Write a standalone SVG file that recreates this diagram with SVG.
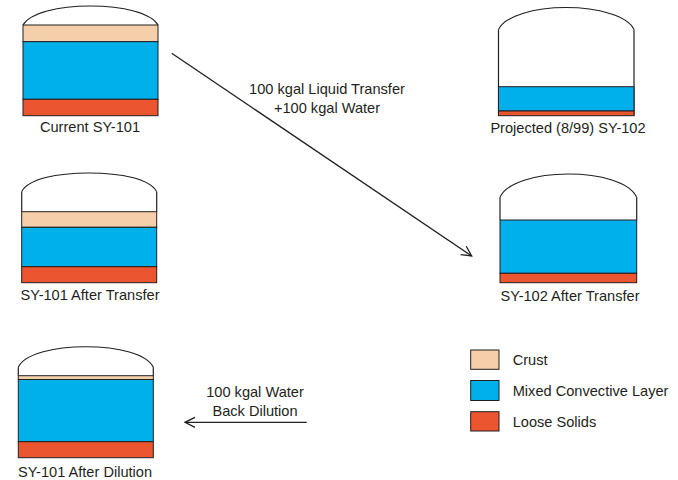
<svg xmlns="http://www.w3.org/2000/svg" width="678" height="480" viewBox="0 0 678 480">
<style>
.dome{fill:none;stroke:#231F20;stroke-width:1.1}
.wall{fill:none;stroke:#231F20;stroke-width:1.2}
.crust{fill:#F5CFA9;stroke:#231F20;stroke-width:1}
.mix{fill:#00B0EB;stroke:#231F20;stroke-width:1}
.solid{fill:#EB5530;stroke:#231F20;stroke-width:1}
text{font-family:"Liberation Sans",Arial,sans-serif;font-size:14.6px;fill:#231F20}
.c{text-anchor:middle}
.conn{stroke:#231F20;stroke-width:1.3;fill:none}
</style>
<defs>
<marker id="arr" viewBox="0 0 12 12" refX="11" refY="6" markerWidth="12" markerHeight="12" markerUnits="userSpaceOnUse" orient="auto">
<path d="M1,1 L11,6 L1,11" fill="none" stroke="#231F20" stroke-width="1.3"/>
</marker>
</defs>

<g id="tank-current-sy101">
<path class="dome" d="M23,25 C30,13 58,6 90.5,6 C123,6 151,13 158,25"/>
<rect class="crust" x="23" y="25" width="135" height="16.7"/>
<rect class="mix" x="23" y="41.7" width="135" height="57.6"/>
<rect class="solid" x="23" y="99.3" width="135" height="16.4"/>
<text class="c" x="90" y="132">Current SY-101</text>
</g>

<g id="tank-projected-sy102">
<path class="dome" d="M498.5,29.5 C505,16 534,7.5 566,7.5 C598,7.5 628,16 634,29.5"/>
<path class="wall" d="M498.5,29.5 V115.7 M634,29.5 V115.7"/>
<rect class="mix" x="498.5" y="86.7" width="135.5" height="24.3"/>
<rect class="solid" x="498.5" y="111" width="135.5" height="4.7"/>
<text class="c" x="568" y="133">Projected (8/99) SY-102</text>
</g>

<g id="tank-sy101-after-transfer">
<path class="dome" d="M21.7,191.7 C28,179 57,173 89,173 C121,173 150,179 156.7,191.7"/>
<path class="wall" d="M21.7,191.7 V211.7 M156.7,191.7 V211.7"/>
<rect class="crust" x="21.7" y="211.7" width="135" height="15.6"/>
<rect class="mix" x="21.7" y="227.3" width="135" height="39.4"/>
<rect class="solid" x="21.7" y="266.7" width="135" height="16"/>
<text class="c" x="90" y="299.5">SY-101 After Transfer</text>
</g>

<g id="tank-sy102-after-transfer">
<path class="dome" d="M500,197.3 C506,183 536,174 568,174 C600,174 630,182 636.7,197.3"/>
<path class="wall" d="M500,197.3 V220 M636.7,197.3 V220"/>
<rect class="mix" x="500" y="220" width="136.7" height="53.3"/>
<rect class="solid" x="500" y="273.3" width="136.7" height="9.4"/>
<text class="c" x="570" y="300.5">SY-102 After Transfer</text>
</g>

<g id="tank-sy101-after-dilution">
<path class="dome" d="M18.3,367.3 C24,354 54,346.7 86,346.7 C118,346.7 147,354 153.3,367.3"/>
<path class="wall" d="M18.3,367.3 V375.7 M153.3,367.3 V375.7"/>
<rect class="crust" x="18.3" y="375.7" width="135" height="3.8"/>
<rect class="mix" x="18.3" y="379.5" width="135" height="62.2"/>
<rect class="solid" x="18.3" y="441.7" width="135" height="16"/>
<text class="c" x="85" y="476.5">SY-101 After Dilution</text>
</g>

<g id="connectors">
<line class="conn" x1="171.7" y1="53.3" x2="471.7" y2="256" marker-end="url(#arr)"/>
<line class="conn" x1="306.7" y1="422.3" x2="185" y2="422.3" marker-end="url(#arr)"/>
</g>

<g id="label-transfer">
<text class="c" x="327" y="93.5">100 kgal Liquid Transfer</text>
<text class="c" x="327" y="112.5">+100 kgal Water</text>
</g>

<g id="label-dilution">
<text class="c" x="255" y="396.5">100 kgal Water</text>
<text class="c" x="255" y="415.5">Back Dilution</text>
</g>

<g id="legend">
<rect class="crust" x="470.7" y="350" width="28.3" height="19.3"/>
<text x="512.7" y="365">Crust</text>
<rect class="mix" x="470.7" y="380.5" width="28.3" height="20"/>
<text x="512.7" y="395.5">Mixed Convective Layer</text>
<rect class="solid" x="470.7" y="411.7" width="28.3" height="19.3"/>
<text x="512.7" y="426.5">Loose Solids</text>
</g>
</svg>
